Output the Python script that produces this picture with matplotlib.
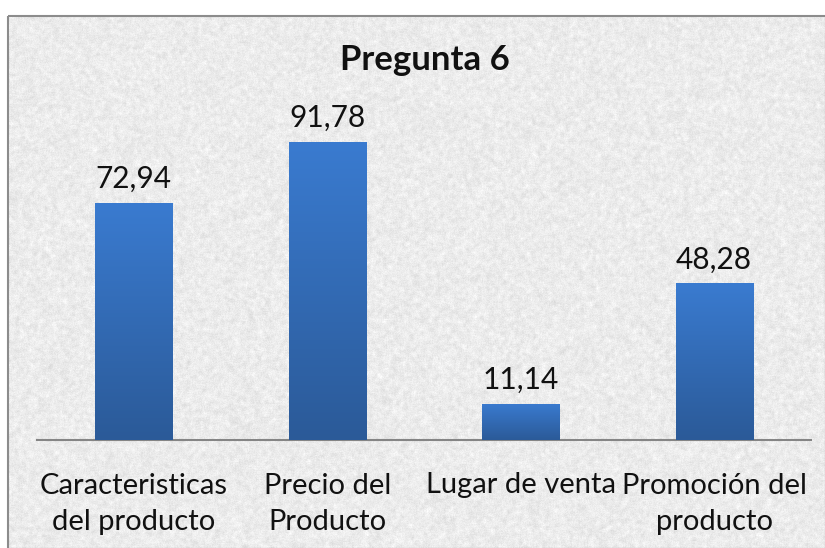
import matplotlib

matplotlib.use("Agg")

import matplotlib.pyplot as plt
import numpy as np
from matplotlib.colors import LinearSegmentedColormap
from matplotlib.patches import Rectangle
from matplotlib.transforms import blended_transform_factory

categories = ["Caracteristicas\ndel producto", "Precio del\nProducto", "Lugar de venta", "Promoción del\nproducto"]
values = [72.94, 91.78, 11.14, 48.28]
value_labels = ["72,94", "91,78", "11,14", "48,28"]
title = "Pregunta 6"

W, H = 825, 548
fig = plt.figure(figsize=(W / 100, H / 100), dpi=100, facecolor="white")
plt.rcParams["font.family"] = ["Lato", "DejaVu Sans"]

# granite-like backdrop inside the chart border
bg = fig.add_axes([0, 0, 1, 1], zorder=0)
bg.set_axis_off()
rng = np.random.default_rng(6)
noise = rng.random((H, W))
k = np.ones(4) / 4
smooth = np.apply_along_axis(lambda r: np.convolve(r, k, mode="same"), 1, noise)
smooth = np.apply_along_axis(lambda c: np.convolve(c, k, mode="same"), 0, smooth)
tex = 0.82 + 0.15 * (smooth - smooth.min()) / (smooth.max() - smooth.min())
tex += 0.04 * rng.random((H, W))
tex = np.clip(tex, 0, 1)
img = bg.imshow(tex, cmap="gray", vmin=0, vmax=1, extent=[0, W, H, 0], aspect="auto")
bg.set_xlim(0, W)
bg.set_ylim(H, 0)
frame = Rectangle((8, 16), W, H, facecolor="none", edgecolor="#8c8c8c", linewidth=1.5)
bg.add_patch(frame)
img.set_clip_path(frame)

ax = fig.add_axes([37 / W, 1 - 440 / H, (811 - 37) / W, (440 - 115) / H], zorder=1)
ax.patch.set_alpha(0)
x = np.arange(len(categories))
bars = ax.bar(x, values, width=0.4, color="#3168b5", zorder=2)

cmap = LinearSegmentedColormap.from_list("blue", ["#2b5a98", "#3a7bd0"])
grad = np.linspace(0, 1, 256).reshape(-1, 1)
for b in bars:
    x0, w, h = b.get_x(), b.get_width(), b.get_height()
    im = ax.imshow(grad, cmap=cmap, origin="lower", extent=[x0, x0 + w, 0, h],
                   aspect="auto", zorder=3)
    im.set_clip_path(b)
ax.set_xlim(-0.5, len(categories) - 0.5)
ax.set_ylim(0, 100)

for xi, v, lab in zip(x, values, value_labels):
    ax.annotate(lab, (xi, v), xytext=(0, 7), textcoords="offset points",
                ha="center", va="bottom", fontsize=21.5, color="#111111")

trans = blended_transform_factory(ax.transData, ax.transAxes)
for xi, cat in zip(x, categories):
    ax.text(xi, -0.10, cat, transform=trans, ha="center", va="top",
            fontsize=21, color="#111111", linespacing=1.5)

for s in ["top", "right", "left"]:
    ax.spines[s].set_visible(False)
ax.spines["bottom"].set_color("#858585")
ax.spines["bottom"].set_linewidth(1.5)
ax.set_xticks([])
ax.set_yticks([])

fig.text(425 / W, 1 - 60 / H, title, ha="center", va="center",
         fontsize=25, fontweight="bold", color="#111111")

fig.savefig("out.png", dpi=100, facecolor="white")
